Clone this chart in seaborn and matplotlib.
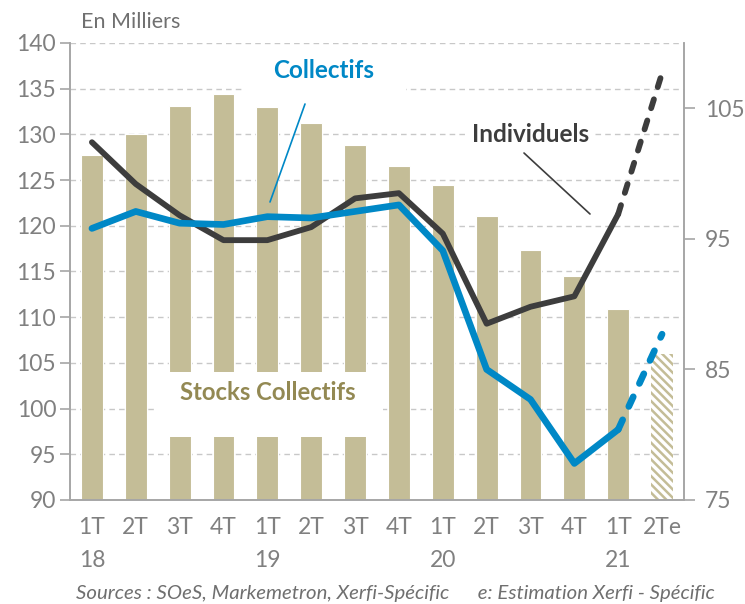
import numpy as np
import pandas as pd
import matplotlib.pyplot as plt
import seaborn as sns
from matplotlib.patches import Rectangle
from matplotlib.lines import Line2D

# Données
trimestres = ["1T\n18", "2T", "3T", "4T", "1T\n19", "2T", "3T", "4T",
              "1T\n20", "2T", "3T", "4T", "1T\n21", "2Te"]
stocks_collectifs = [127.8, 130.0, 133.1, 134.4, 133.0, 131.2, 128.8, 126.5,
                     124.5, 121.1, 117.4, 114.5, 110.9, 106.0]
individuels = [102.4, 99.2, 96.8, 94.9, 94.9, 95.9, 98.1, 98.5,
               95.4, 88.5, 89.8, 90.6, 96.9, 107.7]
collectifs = [95.8, 97.1, 96.2, 96.1, 96.7, 96.6, 97.1, 97.6,
              94.1, 85.0, 82.7, 77.8, 80.4, 87.7]

W, H = 745, 604
TAN = "#c4bd97"
BLEU = "#0088c6"
NOIR = "#3d3d3d"
GRIS = "#808080"

sns.set_theme(style="white")
plt.rcParams["font.family"] = ["Lato", "DejaVu Sans"]
plt.rcParams["hatch.linewidth"] = 1.8

df = pd.DataFrame({"pos": np.arange(len(trimestres)), "stock": stocks_collectifs,
                   "ind": individuels, "col": collectifs})


def px(x, y):
    return x / W, 1 - y / H


fig = plt.figure(figsize=(W / 100, H / 100), dpi=100)
ax = fig.add_axes([70 / W, 1 - 500 / H, 614 / W, 457 / H])

sns.barplot(data=df, x="pos", y="stock", ax=ax, color=TAN, width=0.5,
            saturation=1, edgecolor="white", linewidth=0.8, zorder=2)
# dernière barre estimée : hachurée
last = ax.patches[len(trimestres) - 1]
last.set_facecolor("white")
last.set_edgecolor(TAN)
last.set_hatch("\\\\\\\\")
last.set_linewidth(0)

ax.set_ylim(90, 140)
ax.set_yticks(np.arange(90, 141, 5))
ax.set_xlim(-0.5, len(trimestres) - 0.5)
ax.set_xticks(df["pos"])
ax.set_xticklabels(trimestres, linespacing=1.7)
ax.set_xticks(np.arange(-0.5, len(trimestres)), minor=True)
ax.tick_params(axis="x", which="major", length=0, pad=12, labelsize=16.5, colors=GRIS)
ax.tick_params(axis="x", which="minor", length=7, width=1.2, color="#a6a6a6", direction="out")
ax.tick_params(axis="y", length=7, width=1.2, color="#a6a6a6", labelsize=16.5,
               labelcolor=GRIS, direction="out", pad=3)
ax.set_xlabel("")
ax.set_ylabel("")
ax.grid(axis="y", color="#c8c8c8", linestyle=(0, (4, 3)), linewidth=1)
ax.set_axisbelow(True)

ax2 = ax.twinx()
sol = df.iloc[:13]
est = df.iloc[12:]
sns.lineplot(data=sol, x="pos", y="ind", ax=ax2, color=NOIR, linewidth=4.2,
             solid_joinstyle="round", solid_capstyle="round")
sns.lineplot(data=est, x="pos", y="ind", ax=ax2, color=NOIR, linewidth=4.2,
             linestyle=(0, (1.6, 2.2)), dash_capstyle="round")
sns.lineplot(data=sol, x="pos", y="col", ax=ax2, color=BLEU, linewidth=4.8,
             solid_joinstyle="round", solid_capstyle="round")
sns.lineplot(data=est, x="pos", y="col", ax=ax2, color=BLEU, linewidth=4.8,
             linestyle=(0, (1.6, 2.2)), dash_capstyle="round")
ax2.set_ylim(75, 110)
ax2.set_yticks([75, 85, 95, 105])
ax2.tick_params(axis="y", length=8, width=1.2, color="#a6a6a6", labelsize=16.5,
                labelcolor=GRIS, direction="out", pad=7)
ax2.set_ylabel("")
ax2.grid(False)

for a in (ax, ax2):
    a.spines["top"].set_visible(False)
    for s in ("left", "right", "bottom"):
        a.spines[s].set_color("#a6a6a6")
        a.spines[s].set_linewidth(1.2)

# étiquettes avec fond blanc
fig.add_artist(Rectangle(px(157, 437), 226 / W, 65 / H, transform=fig.transFigure,
                         facecolor="white", edgecolor="none"))
fig.text(*px(268, 393), "Stocks Collectifs", ha="center", va="center",
         fontsize=17.2, fontweight="bold", color="#938953")

fig.add_artist(Rectangle(px(242, 97), 164 / W, 45 / H, transform=fig.transFigure,
                         facecolor="white", edgecolor="none"))
fig.text(*px(324, 71), "Collectifs", ha="center", va="center",
         fontsize=17.5, fontweight="bold", color=BLEU)

fig.add_artist(Rectangle(px(468, 150), 126 / W, 30 / H, transform=fig.transFigure,
                         facecolor="white", edgecolor="none"))
fig.text(*px(531, 135), "Individuels", ha="center", va="center",
         fontsize=17.5, fontweight="bold", color=NOIR)

fig.add_artist(Line2D([305 / W, 270 / W], [1 - 104 / H, 1 - 202 / H],
                      transform=fig.transFigure, color=BLEU, linewidth=1.2))
fig.add_artist(Line2D([524 / W, 590 / W], [1 - 153 / H, 1 - 214 / H],
                      transform=fig.transFigure, color=NOIR, linewidth=1.2))

fig.text(*px(81, 22), "En Milliers", ha="left", va="center", fontsize=15.5, color="#707070")
fig.text(*px(76, 594), "Sources : SOeS, Markemetron, Xerfi-Spécific      e: Estimation Xerfi - Spécific",
         ha="left", va="center", fontsize=14.7, style="italic", color="#6f6f6f")

fig.savefig("out.png", dpi=100)
